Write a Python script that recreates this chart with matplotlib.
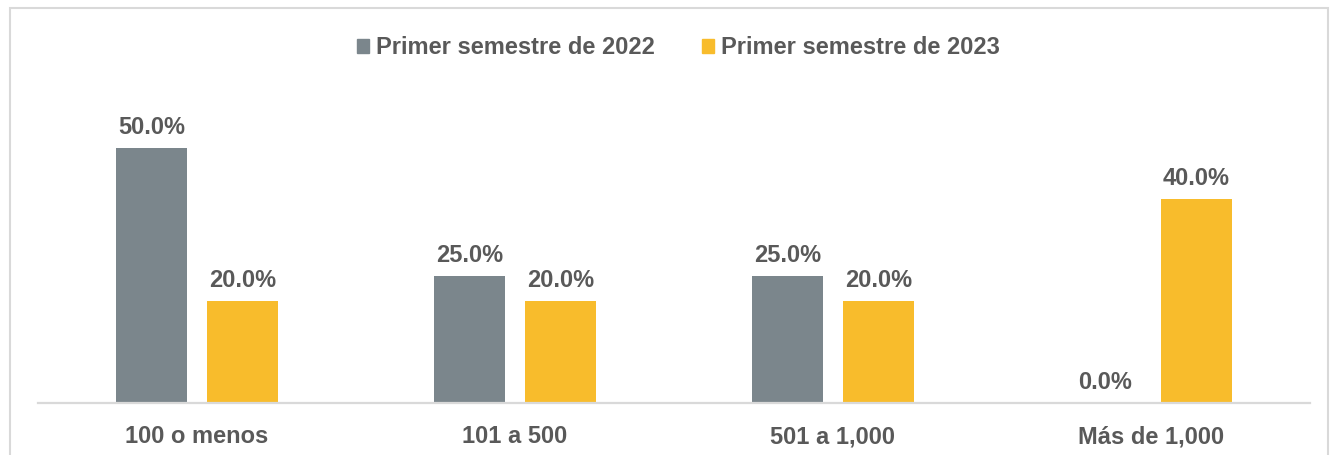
import numpy as np
import matplotlib.pyplot as plt
from matplotlib.patches import Patch, Rectangle

categorias = ["100 o menos", "101 a 500", "501 a 1,000", "Más de 1,000"]
serie_2022 = [50.0, 25.0, 25.0, 0.0]
serie_2023 = [20.0, 20.0, 20.0, 40.0]
nombres = ["Primer semestre de 2022", "Primer semestre de 2023"]

gris = "#7B868C"
amarillo = "#F8BC2C"
texto = "#595959"

plt.rcParams["font.family"] = ["Liberation Sans", "DejaVu Sans"]
plt.rcParams["font.weight"] = "bold"

fig = plt.figure(figsize=(13.38, 4.55), dpi=100)
ax = fig.add_axes([38 / 1338, 1 - 403 / 455, 1272 / 1338, 306 / 455])

x = np.arange(len(categorias))
ancho = 0.223
sep = 0.143
b1 = ax.bar(x - sep, serie_2022, ancho, color=gris)
b2 = ax.bar(x + sep, serie_2023, ancho, color=amarillo)

for barras, valores in ((b1, serie_2022), (b2, serie_2023)):
    for b, v in zip(barras, valores):
        ax.annotate(f"{v:.1f}%", (b.get_x() + b.get_width() / 2, v),
                    xytext=(0, 9), textcoords="offset pixels",
                    ha="center", va="bottom", fontsize=17,
                    fontweight="bold", color=texto)

ax.set_xlim(-0.5, len(categorias) - 0.5)
ax.set_ylim(0, 60)
ax.set_xticks(x)
ax.set_xticklabels(categorias, fontsize=17, fontweight="bold", color=texto)
ax.tick_params(axis="x", length=0, pad=16)
ax.set_yticks([])
for s in ["top", "left", "right"]:
    ax.spines[s].set_visible(False)
ax.spines["bottom"].set_color("#D9D9D9")
ax.spines["bottom"].set_linewidth(1.6)

# marco gris del gráfico
fig.patches.append(Rectangle((10 / 1338, -0.1), 1318 / 1338, 1.1 - 8 / 455,
                             transform=fig.transFigure, fill=False,
                             edgecolor="#D9D9D9", linewidth=1.5))

handles = [Patch(color=gris), Patch(color=amarillo)]
leg = fig.legend(handles, nombres, loc="center", ncol=2,
                 bbox_to_anchor=(0.507, 1 - 48 / 455), frameon=False,
                 fontsize=17, handlelength=0.5, handleheight=0.5,
                 handletextpad=0.3, columnspacing=2.0)
for t in leg.get_texts():
    t.set_color(texto)
    t.set_fontweight("bold")

fig.savefig("out.png", dpi=100)
